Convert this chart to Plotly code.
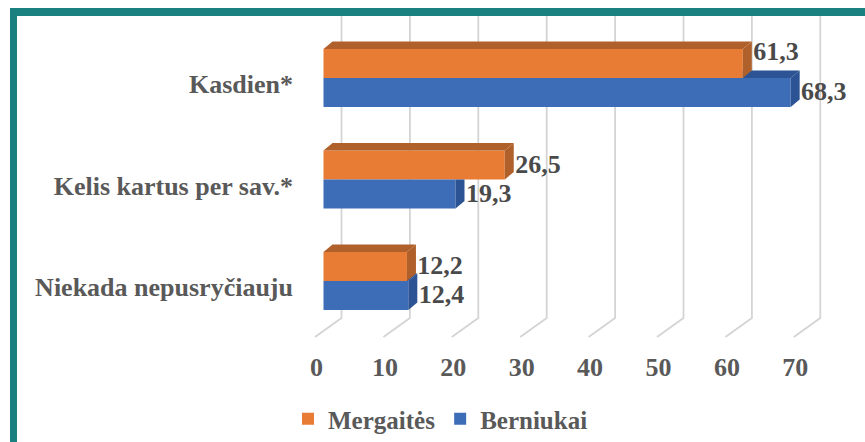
import plotly.graph_objects as go

categories = ["Kasdien*", "Kelis kartus per sav.*", "Niekada nepusryčiauju"]
mergaites = [61.3, 26.5, 12.2]
berniukai = [68.3, 19.3, 12.4]
x_ticks = [0, 10, 20, 30, 40, 50, 60, 70]
label_lift = [[-0.10, 0.01, 0.01], [0.01, 0.01, 0.01]]

W, H = 865, 442
L, R, T, B = 294, 840, 16, 349
PX_X, PX_Y = 6.84, 101.5
X0_PX, Y0_PX = 323.5, 78
xr = [(L - X0_PX) / PX_X, (R - X0_PX) / PX_X]
yr = [(B - Y0_PX) / PX_Y, (T - Y0_PX) / PX_Y]

DX, DY = 9 / PX_X, 7.5 / PX_Y      # depth of the extrusion
BAR = 29 / PX_Y
WALL, FLOOR = 18 / PX_X, -8.5 / PX_X
FLOOR_Y, FRONT_Y = (318 - Y0_PX) / PX_Y, (337 - Y0_PX) / PX_Y
TEXT = "#595959"
FONT = "Liberation Serif"
C_O, C_O_D, C_B, C_B_D = "#E97C35", "#B0602A", "#3E6DB7", "#2C5394"

fig = go.Figure()
ys = list(range(len(categories)))
fig.add_bar(y=ys, x=mergaites, name="Mergaitės", orientation="h", marker=dict(color=C_O, line_width=0))
fig.add_bar(y=ys, x=berniukai, name="Berniukai", orientation="h", marker=dict(color=C_B, line_width=0))


def face(xs, yy, color):
    fig.add_scatter(x=xs + xs[:1], y=yy + yy[:1], mode="lines", fill="toself", fillcolor=color,
                    line=dict(width=0, color=color), showlegend=False, hoverinfo="skip")


for i in ys:
    o, b = mergaites[i], berniukai[i]
    o_top, mid, b_bot = i - BAR, i, i + BAR
    # blue: only the parts that the orange bar does not hide
    if b > o:
        face([o, o, b + DX, b], [mid, mid - DY, mid - DY, mid], C_B_D)
        face([b, b, b + DX, b + DX], [b_bot, mid, mid - DY, b_bot - DY], C_B_D)
    else:
        face([b, b, b + DX, b + DX], [b_bot, mid, mid, b_bot - DY], C_B_D)
    # orange
    face([0, DX, o + DX, o], [o_top, o_top - DY, o_top - DY, o_top], C_O_D)
    face([o, o, o + DX, o + DX], [mid, o_top, o_top - DY, mid - DY], C_O_D)

for s, (vals, off) in enumerate([(mergaites, -BAR / 2), (berniukai, BAR / 2)]):
    fig.add_scatter(x=[v + DX + 0.2 for v in vals], y=[i + off + label_lift[s][i] for i in ys],
                    mode="text", text=[f"{v:.1f}".replace(".", ",") for v in vals],
                    textposition="middle right", showlegend=False, hoverinfo="skip", cliponaxis=False,
                    textfont=dict(family=FONT, size=26, color="#4A4A4A", weight=700))

shapes = []
for t in x_ticks:
    shapes.append(dict(type="path", xref="x", yref="y", layer="below",
                       path=f"M {t + WALL} {yr[1]} L {t + WALL} {FLOOR_Y} L {t + FLOOR} {FRONT_Y}",
                       line=dict(color="#D4D4D4", width=1.8)))


def px(xv):
    return (xv - L) / (R - L)


def py(yv):
    return (B - yv) / (B - T)


TEAL = "#1B8180"
shapes.append(dict(type="rect", xref="paper", yref="paper", layer="above", x0=px(10), x1=px(17), y0=py(H), y1=py(8),
                   fillcolor=TEAL, line_width=0))
shapes.append(dict(type="rect", xref="paper", yref="paper", layer="above", x0=px(10), x1=px(W), y0=py(16), y1=py(8),
                   fillcolor=TEAL, line_width=0))

fig.update_layout(
    width=W, height=H, margin=dict(l=L, r=W - R, t=T, b=H - B),
    paper_bgcolor="white", plot_bgcolor="rgba(0,0,0,0)",
    barmode="group", bargap=1 - 2 * BAR, bargroupgap=0, shapes=shapes,
    xaxis=dict(range=xr, tickvals=[t - 7 / PX_X for t in x_ticks], ticktext=[str(t) for t in x_ticks],
               showgrid=False, zeroline=False, showline=False, ticks="",
               tickfont=dict(family=FONT, size=26, color=TEXT, weight=700)),
    yaxis=dict(range=yr, tickvals=[i + 0.06 for i in ys], ticktext=categories,
               showgrid=False, zeroline=False, showline=False, ticks="",
               tickfont=dict(family=FONT, size=26, color=TEXT, weight=700)),
    legend=dict(orientation="h", xref="container", yref="container", x=288 / W, xanchor="left",
                y=1 - 419 / H, yanchor="middle",
                font=dict(family=FONT, size=25, color=TEXT, weight=700), traceorder="normal",
                bgcolor="rgba(0,0,0,0)"),
    showlegend=True,
)
fig.write_html("out.html", post_script="document.body.style.margin='0';",
               config=dict(displayModeBar=False))
